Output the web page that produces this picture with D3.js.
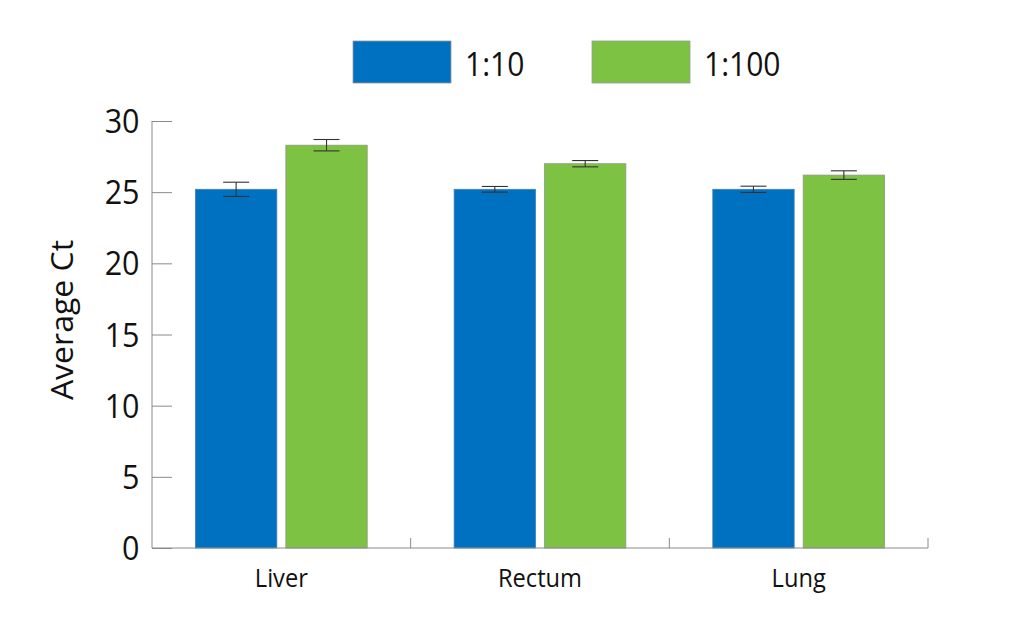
<!DOCTYPE html>
<html><head><meta charset="utf-8">
<script src="https://cdn.jsdelivr.net/npm/d3@7"></script>
<style>body{margin:0;background:#fff}text{font-family:"Open Sans",sans-serif;fill:#111}</style>
</head><body>
<svg id="c" width="1024" height="636"></svg>
<script>
const categories = ["Liver", "Rectum", "Lung"];
const series = ["1:10", "1:100"];
const values10 = [25.2, 25.2, 25.2];
const values100 = [28.3, 27.0, 26.2];
const err10 = [0.5, 0.2, 0.22];
const err100 = [0.4, 0.22, 0.3];
const yTicks = [0, 5, 10, 15, 20, 25, 30];
const colors = ["#0070c0", "#7dc243"];

const SX = 0.91; // horizontal compression of glyphs seen in reference
const svg = d3.select("#c");
const L = 152, R = 928, T = 121, B = 548;
const x0 = d3.scaleBand().domain(categories).range([L, R]).paddingInner(0).paddingOuter(0);
const x1 = d3.scaleBand().domain(series).range([0, x0.bandwidth()]).paddingInner(0.1).paddingOuter(0.481);
const y = d3.scaleLinear().domain([0, 30]).range([B, T]);

const data = [];
categories.forEach((c, i) => {
  data.push({c, s: series[0], v: values10[i], e: err10[i], col: colors[0]});
  data.push({c, s: series[1], v: values100[i], e: err100[i], col: colors[1]});
});

// bars
svg.append("g").selectAll("rect").data(data).join("rect")
  .attr("x", d => x0(d.c) + x1(d.s))
  .attr("width", x1.bandwidth())
  .attr("y", d => y(d.v))
  .attr("height", d => y(0) - y(d.v))
  .attr("fill", d => d.col)
  .attr("stroke", d => d.s === series[1] ? "#8c9a80" : "#3d7fb5")
  .attr("stroke-width", 0.8);

// error bars
const eg = svg.append("g").attr("stroke", "#333").attr("stroke-width", 1.1);
data.forEach(d => {
  const cx = x0(d.c) + x1(d.s) + x1.bandwidth() / 2;
  eg.append("line").attr("x1", cx).attr("x2", cx).attr("y1", y(d.v + d.e)).attr("y2", y(d.v - d.e));
  eg.append("line").attr("x1", cx - 13).attr("x2", cx + 13).attr("y1", y(d.v + d.e)).attr("y2", y(d.v + d.e));
  eg.append("line").attr("x1", cx - 13).attr("x2", cx + 13).attr("y1", y(d.v - d.e)).attr("y2", y(d.v - d.e));
});

// y axis
const ya = svg.append("g").attr("transform", `translate(${L},0)`)
  .call(d3.axisRight(y).tickValues(yTicks).tickSize(20).tickFormat(""));
ya.select(".domain").attr("stroke", "#8a8a8a").attr("d", `M0,${T}V${B}`);
ya.selectAll(".tick line").attr("stroke", "#8a8a8a");
svg.append("g").selectAll("text").data(yTicks).join("text")
  .attr("transform", d => `translate(139.5,${y(d)}) scale(${SX},1)`).attr("dy", "0.36em")
  .attr("text-anchor", "end").attr("font-size", 33.5).text(d => d);

// x axis
const xa = svg.append("g").attr("transform", `translate(0,${B})`)
  .call(d3.axisTop(x0).tickSize(0).tickFormat(""));
xa.select(".domain").attr("stroke", "#8a8a8a").attr("d", `M${L},0H${R}`);
xa.selectAll(".tick").remove();
const bounds = categories.map(c => x0(c)).concat([R]).slice(1);
xa.selectAll("line.sep").data(bounds).join("line").attr("class", "sep")
  .attr("x1", d => d).attr("x2", d => d).attr("y1", 0).attr("y2", -10)
  .attr("stroke", "#8a8a8a");
svg.append("g").selectAll("text").data(categories).join("text")
  .attr("transform", d => `translate(${x0(d) + x0.bandwidth() / 2},586.5) scale(${SX},1)`)
  .attr("text-anchor", "middle").attr("font-size", 26).text(d => d);

// y label
svg.append("text").attr("transform", "translate(73,320) rotate(-90) scale(1,0.95)")
  .attr("text-anchor", "middle").attr("font-size", 32).text("Average Ct");

// legend
const legX = [353, 592];
const lg = svg.append("g").selectAll("g").data(series).join("g")
  .attr("transform", (d, i) => `translate(${legX[i]},41)`);
lg.append("rect").attr("width", 98).attr("height", 42)
  .attr("fill", (d, i) => colors[i]).attr("stroke", "#999").attr("stroke-width", 0.8);
lg.append("text").attr("transform", `translate(112,35) scale(${SX},1)`)
  .attr("font-size", 33).text(d => d);
</script>
</body></html>
